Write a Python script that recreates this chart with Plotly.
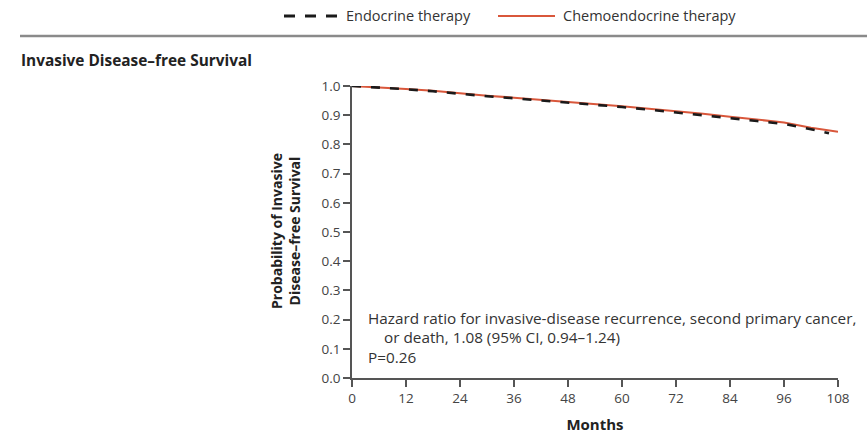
import plotly.graph_objects as go

months_chemo = [0, 6, 12, 18, 24, 30, 36, 42, 48, 54, 60, 66, 72, 78, 84, 90, 96, 102, 108]
surv_chemo = [1.000, 0.996, 0.990, 0.984, 0.975, 0.967, 0.960, 0.953, 0.946, 0.938,
              0.931, 0.922, 0.914, 0.905, 0.895, 0.884, 0.875, 0.857, 0.843]

months_endo = [0, 6, 12, 18, 24, 30, 36, 42, 48, 54, 60, 66, 72, 78, 84, 90, 96, 102, 106]
surv_endo = [1.000, 0.995, 0.989, 0.982, 0.973, 0.965, 0.958, 0.951, 0.944, 0.936,
             0.928, 0.919, 0.910, 0.901, 0.890, 0.880, 0.870, 0.852, 0.838]

series_names = ["Endocrine therapy", "Chemoendocrine therapy"]

x_ticks = [0, 12, 24, 36, 48, 60, 72, 84, 96, 108]
y_ticks = [0.0, 0.1, 0.2, 0.3, 0.4, 0.5, 0.6, 0.7, 0.8, 0.9, 1.0]

FONT = "Open Sans"
W, H = 867, 436
L, R, T, B = 352, 29, 86, 58
pw, ph = W - L - R, H - T - B

RED = "#d9573b"
BLACK = "#1a1a1a"


def px_x(p):
    return (p - L) / pw


def px_y(p):
    return (H - B - p) / ph


fig = go.Figure()
fig.add_trace(go.Scatter(
    x=months_chemo, y=surv_chemo, mode="lines", name=series_names[1],
    line=dict(color=RED, width=2), cliponaxis=False, showlegend=False))
fig.add_trace(go.Scatter(
    x=months_endo, y=surv_endo, mode="lines", name=series_names[0],
    line=dict(color=BLACK, width=2.6, dash="9px,10px"), cliponaxis=False, showlegend=False))

fig.update_layout(
    width=W, height=H,
    margin=dict(l=L, r=R, t=T, b=B, autoexpand=False),
    plot_bgcolor="white", paper_bgcolor="white",
    font=dict(family=FONT, size=13, color="#333"),
    showlegend=False,
    xaxis=dict(range=[0, 108], tickvals=x_ticks, ticktext=[str(v) for v in x_ticks],
               showgrid=False, zeroline=False, showline=True, linecolor="#555", linewidth=1.5,
               ticks="outside", ticklen=7, tickcolor="#555", tickwidth=1.5,
               tickfont=dict(size=13.5, color="#444"),
               title=dict(text="<b>Months</b>", font=dict(size=15, color="#222"), standoff=14)),
    yaxis=dict(range=[0, 1.0], tickvals=y_ticks, ticktext=[f"{v:.1f}" for v in y_ticks],
               showgrid=False, zeroline=False, showline=True, linecolor="#555", linewidth=1.5,
               ticks="outside", ticklen=7, tickcolor="#555", tickwidth=1.5,
               tickfont=dict(size=13.5, color="#444")),
)

# legend (drawn manually)
LEG_Y = 16
fig.add_shape(type="line", xref="paper", yref="paper",
              x0=px_x(284), x1=px_x(337), y0=px_y(LEG_Y), y1=px_y(LEG_Y),
              line=dict(color=BLACK, width=2.8, dash="11px,10px"))
fig.add_annotation(text=series_names[0], xref="paper", yref="paper",
                   x=px_x(344), y=px_y(LEG_Y), xanchor="left", yanchor="middle",
                   showarrow=False, font=dict(size=14.5, color="#333"))
fig.add_shape(type="line", xref="paper", yref="paper",
              x0=px_x(498), x1=px_x(555), y0=px_y(LEG_Y), y1=px_y(LEG_Y),
              line=dict(color=RED, width=2))
fig.add_annotation(text=series_names[1], xref="paper", yref="paper",
                   x=px_x(561), y=px_y(LEG_Y), xanchor="left", yanchor="middle",
                   showarrow=False, font=dict(size=14.5, color="#333"))

fig.add_shape(type="line", xref="paper", yref="paper",
              x0=px_x(20), x1=px_x(870), y0=px_y(36), y1=px_y(36),
              line=dict(color="#8a8a8a", width=2.5))

fig.add_annotation(text="<b>Invasive Disease–free Survival</b>", xref="paper", yref="paper",
                   x=px_x(19), y=px_y(60), xanchor="left", yanchor="middle", showarrow=False,
                   font=dict(size=15.4, color="#222"))

fig.add_annotation(text="<b>Probability of Invasive<br>Disease–free Survival</b>",
                   xref="paper", yref="paper", x=px_x(285), y=px_y(231), textangle=-90,
                   xanchor="center", yanchor="middle", showarrow=False,
                   font=dict(size=14, color="#222"))

fig.add_annotation(text="Hazard ratio for invasive-disease recurrence, second primary cancer,",
                   xref="paper", yref="paper", x=px_x(366), y=px_y(318),
                   xanchor="left", yanchor="middle", showarrow=False,
                   font=dict(size=15.3, color="#333"))
fig.add_annotation(text="or death, 1.08 (95% CI, 0.94–1.24)",
                   xref="paper", yref="paper", x=px_x(382), y=px_y(337),
                   xanchor="left", yanchor="middle", showarrow=False,
                   font=dict(size=15.3, color="#333"))
fig.add_annotation(text="P=0.26",
                   xref="paper", yref="paper", x=px_x(366), y=px_y(357),
                   xanchor="left", yanchor="middle", showarrow=False,
                   font=dict(size=15.3, color="#333"))

fig.write_html("out.html")
